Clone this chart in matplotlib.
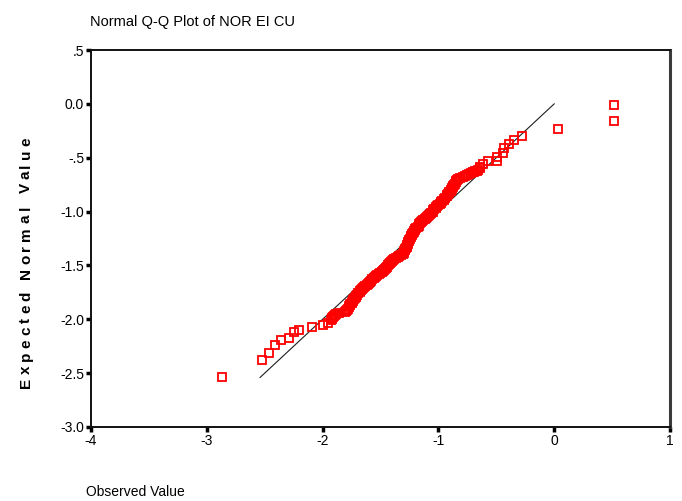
import matplotlib
matplotlib.use("Agg")
import matplotlib.pyplot as plt
from matplotlib.font_manager import FontProperties

plt.rcParams["font.family"] = ["Liberation Sans", "DejaVu Sans"]

# Observed values (x) and their expected normal values (y), in sorted order
observed = [
    # lower tail
    -2.87, -2.52, -2.46, -2.41, -2.36, -2.29, -2.25, -2.20, -2.09, -2.00, -1.95,
    # central body
    -1.93, -1.92, -1.915, -1.91, -1.90, -1.89, -1.88, -1.86, -1.81, -1.80,
    -1.79, -1.78, -1.775, -1.77, -1.765, -1.76, -1.75, -1.745, -1.74, -1.735,
    -1.73, -1.72, -1.715, -1.71, -1.70, -1.69, -1.68, -1.675, -1.67, -1.66,
    -1.65, -1.64, -1.63, -1.62, -1.61, -1.60, -1.59, -1.58, -1.57, -1.56,
    -1.55, -1.54, -1.53, -1.515, -1.505, -1.49, -1.48, -1.47, -1.46, -1.45,
    -1.44, -1.435, -1.43, -1.42, -1.41, -1.40, -1.39, -1.38, -1.365, -1.35,
    -1.34, -1.325, -1.31, -1.30, -1.295, -1.29, -1.285, -1.28, -1.275, -1.27,
    -1.27, -1.265, -1.26, -1.26, -1.255, -1.25, -1.245, -1.24, -1.235, -1.23,
    -1.225, -1.22, -1.215, -1.21, -1.205, -1.20, -1.19, -1.18, -1.17, -1.165,
    -1.155, -1.15, -1.14, -1.13, -1.12, -1.11, -1.10, -1.09, -1.08, -1.07,
    -1.06, -1.05, -1.045, -1.035, -1.025, -1.02, -1.01, -1.00, -0.99, -0.98,
    -0.975, -0.965, -0.955, -0.95, -0.94, -0.93, -0.925, -0.915, -0.91, -0.905,
    -0.895, -0.89, -0.885, -0.88, -0.875, -0.87, -0.865, -0.86, -0.85, -0.845,
    -0.84, -0.83, -0.81, -0.79, -0.77, -0.75, -0.735, -0.72, -0.70, -0.69,
    -0.68, -0.67, -0.655, -0.645, -0.64,
    # upper tail
    -0.612, -0.569, -0.497, -0.491, -0.445, -0.436, -0.388, -0.345, -0.281,
    0.03, 0.513, 0.513,
]
expected = [
    # lower tail
    -2.54, -2.38, -2.31, -2.24, -2.19, -2.17, -2.12, -2.10, -2.07, -2.05, -2.03,
    # central body
    -2.01, -2.00, -1.99, -1.98, -1.97, -1.96, -1.95, -1.94, -1.93, -1.92,
    -1.91, -1.90, -1.89, -1.88, -1.87, -1.86, -1.85, -1.84, -1.83, -1.82,
    -1.81, -1.80, -1.79, -1.78, -1.77, -1.76, -1.75, -1.74, -1.73, -1.72,
    -1.71, -1.70, -1.69, -1.68, -1.67, -1.66, -1.65, -1.64, -1.63, -1.62,
    -1.61, -1.60, -1.59, -1.58, -1.57, -1.56, -1.55, -1.54, -1.53, -1.52,
    -1.51, -1.50, -1.49, -1.48, -1.47, -1.46, -1.45, -1.44, -1.43, -1.42,
    -1.41, -1.40, -1.39, -1.38, -1.37, -1.36, -1.35, -1.34, -1.33, -1.32,
    -1.31, -1.30, -1.29, -1.28, -1.27, -1.26, -1.25, -1.24, -1.23, -1.22,
    -1.21, -1.20, -1.19, -1.18, -1.17, -1.16, -1.15, -1.14, -1.13, -1.12,
    -1.11, -1.10, -1.09, -1.08, -1.07, -1.06, -1.05, -1.04, -1.03, -1.02,
    -1.01, -1.00, -0.99, -0.98, -0.97, -0.96, -0.95, -0.94, -0.93, -0.92,
    -0.91, -0.90, -0.89, -0.88, -0.87, -0.86, -0.85, -0.84, -0.83, -0.82,
    -0.81, -0.80, -0.79, -0.78, -0.77, -0.76, -0.75, -0.74, -0.73, -0.72,
    -0.71, -0.70, -0.69, -0.68, -0.67, -0.66, -0.65, -0.64, -0.635, -0.63,
    -0.625, -0.62, -0.61, -0.60, -0.59,
    # upper tail
    -0.559, -0.534, -0.528, -0.497, -0.46, -0.414, -0.373, -0.336, -0.296,
    -0.238, -0.16, -0.006,
]
# Reference line y = x over the range of expected values
ref_line = [-2.54, 0.0]

x_ticks = [-4, -3, -2, -1, 0, 1]
x_tick_labels = ["-4", "-3", "-2", "-1", "0", "1"]
y_ticks = [0.5, 0.0, -0.5, -1.0, -1.5, -2.0, -2.5, -3.0]
y_tick_labels = [".5", "0.0", "-.5", "-1.0", "-1.5", "-2.0", "-2.5", "-3.0"]

W, H = 682, 501
fig = plt.figure(figsize=(W / 100, H / 100), dpi=100)
ax = fig.add_axes([91 / W, 1 - 427 / H, (670 - 91) / W, (427 - 50) / H])

ax.plot(ref_line, ref_line, color="#1e1e1e", lw=0.8, zorder=2)
ax.plot(observed, expected, ls="none", marker="s", ms=5.4, mfc="none",
        mec="#ff0000", mew=1.3, zorder=3)

ax.set_xlim(-4, 1)
ax.set_ylim(-3, 0.5)
ax.set_xticks(x_ticks)
ax.set_xticklabels(x_tick_labels)
ax.set_yticks(y_ticks)
ax.set_yticklabels(y_tick_labels)
ax.tick_params(axis="both", direction="out", length=3.5, width=2.5,
               color="black", labelsize=10, pad=1.5)

for side in ["left", "bottom", "top"]:
    ax.spines[side].set_linewidth(1.4)
    ax.spines[side].set_color("#111111")
ax.spines["right"].set_linewidth(2.2)
ax.spines["right"].set_color("#3a3a3a")

fig.text(90 / W, 1 - 22 / H, "Normal Q-Q Plot of NOR EI CU", fontsize=10.5,
         ha="left", va="center")
fig.text(86 / W, 1 - 492 / H, "Observed Value", fontsize=10,
         ha="left", va="center")

# Letter-spaced, bold vertical axis title
label = "Expected Normal Value"
fp = FontProperties(family=["Liberation Sans", "DejaVu Sans"], weight="bold", size=11)
renderer = fig.canvas.get_renderer()
bar_w = renderer.get_text_width_height_descent("|", fp, ismath=False)[0]
full_w = renderer.get_text_width_height_descent(label, fp, ismath=False)[0]
y_bottom, y_top = 388, 137
tracking = ((y_bottom - y_top) - full_w) / (len(label) - 1)
x_base = 30
for i, ch in enumerate(label):
    if ch == " ":
        continue
    off = renderer.get_text_width_height_descent(label[:i] + "|", fp, ismath=False)[0] - bar_w
    ypix = y_bottom - (off + i * tracking)
    fig.text(x_base / W, 1 - ypix / H, ch, fontproperties=fp, rotation=90,
             rotation_mode="anchor", ha="left", va="baseline")

fig.savefig("out.png", dpi=100)
